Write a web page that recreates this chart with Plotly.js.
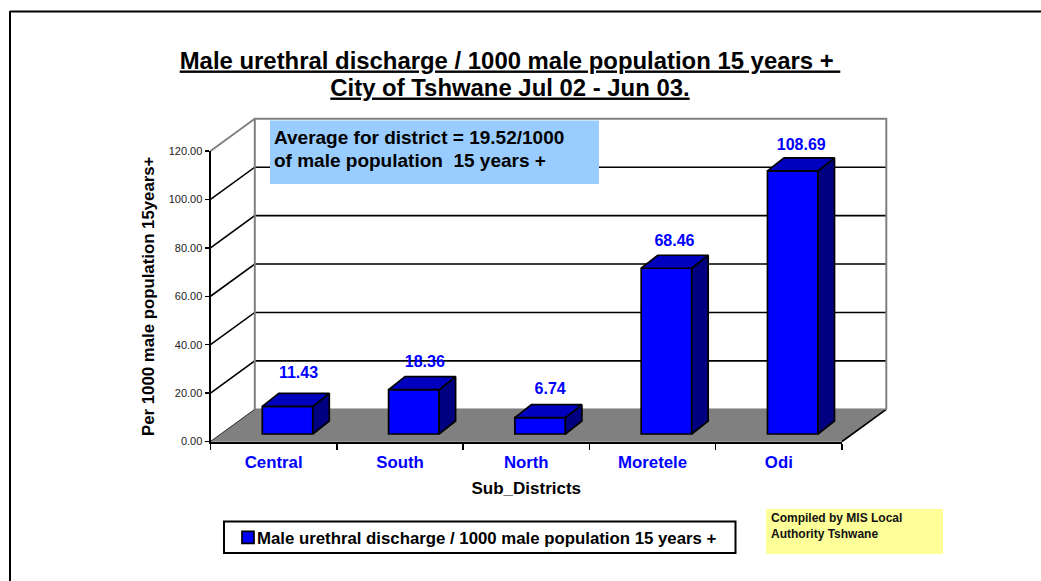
<!DOCTYPE html>
<html>
<head>
<meta charset="utf-8">
<script src="https://cdn.plot.ly/plotly-3.0.1.min.js"></script>
<style>html,body{margin:0;padding:0;background:#fff;overflow:hidden}#chart{width:1041px;height:581px}</style>
</head>
<body>
<div id="chart"></div>
<script>
const categories = ["Central", "South", "North", "Moretele", "Odi"];
const values = [11.43, 18.36, 6.74, 68.46, 108.69];
const valueLabels = ["11.43", "18.36", "6.74", "68.46", "108.69"];
const yTicks = [0, 20, 40, 60, 80, 100, 120];
const yTickLabels = ["0.00", "20.00", "40.00", "60.00", "80.00", "100.00", "120.00"];
const seriesName = "Male urethral discharge / 1000 male population 15 years +";
const labelLiftPx = [32, 27, 28, 26.5, 25];
const labelShiftPx = [11, 11, 10, 8, 8.5];

// page geometry
const W = 1041, H = 581, L = 200, R = 897, T = 110, B = 451;
const frontLeft = 210.5, frontRight = 842, y0Px = 441.5, y120Px = 151;
const pxPerCat = (frontRight - frontLeft) / 5, pxPerUnit = (y0Px - y120Px) / 120;
const wallDx = 44.3 / pxPerCat, wallDy = 32.2 / pxPerUnit;
const barLeft = -0.09, barWidth = 0.4, barBase = 3.1;
const barDx = 16.5 / pxPerCat, barDy = 13 / pxPerUnit;
const FONT = "'Liberation Sans', Arial, sans-serif";
const px = p => (p - L) / (R - L), py = p => (B - p) / (B - T);

const xMin = -0.5, xMax = 4.5;
const side = {x: [], y: []}, top_ = {x: [], y: []};
values.forEach((v, i) => {
  const xl = i + barLeft, xr = xl + barWidth, yb = barBase, yt = barBase + v;
  side.x.push(xr, xr + barDx, xr + barDx, xr, xr, null);
  side.y.push(yb, yb + barDy, yt + barDy, yt, yb, null);
  top_.x.push(xl, xr, xr + barDx, xl + barDx, xl, null);
  top_.y.push(yt, yt, yt + barDy, yt + barDy, yt, null);
});

const traces = [
  {type: "scatter", mode: "text", x: values.map((v, i) => i + barLeft + barWidth / 2 + labelShiftPx[i] / pxPerCat),
   y: values.map((v, i) => barBase + v + labelLiftPx[i] / pxPerUnit), text: valueLabels,
   textposition: "middle center", textfont: {family: FONT, size: 16, color: "#0000FF", weight: 700},
   xaxis: "x", yaxis: "y", showlegend: false, hoverinfo: "skip", cliponaxis: false},
  {type: "bar", name: seriesName, x: categories.map((c, i) => i), y: values, base: barBase, width: barWidth,
   offset: barLeft, xaxis: "x2", yaxis: "y2", customdata: categories,
   marker: {color: "#0000FF", line: {color: "#000", width: 1.7}}, showlegend: true},
  {type: "scatter", mode: "lines", x: side.x, y: side.y, fill: "toself", fillcolor: "#000080",
   line: {color: "#000", width: 1.7}, xaxis: "x2", yaxis: "y2", showlegend: false, hoverinfo: "skip", cliponaxis: false},
  {type: "scatter", mode: "lines", x: top_.x, y: top_.y, fill: "toself", fillcolor: "#0000BE",
   line: {color: "#000", width: 1.7}, xaxis: "x2", yaxis: "y2", showlegend: false, hoverinfo: "skip", cliponaxis: false}
];

const shapes = [];
const poly = (pts, fill, color, width) => shapes.push({type: "path", xref: "x", yref: "y", layer: "below",
  path: "M" + pts.map(p => p[0] + "," + p[1]).join("L") + (fill ? "Z" : ""), fillcolor: fill || undefined,
  line: {color: color, width: width}});
// floor
poly([[xMin, 0], [xMax, 0], [xMax + wallDx, wallDy], [xMin + wallDx, wallDy]], "#808080", "#808080", 0.5);
// gridlines on back and side walls
yTicks.slice(1, -1).forEach(t => {
  poly([[xMin, t], [xMin + wallDx, t + wallDy], [xMax + wallDx, t + wallDy]], null, "#000", 1.6);
});
poly([[xMin, 0], [xMin + wallDx, wallDy]], null, "#333", 1);
poly([[xMax, 0], [xMax + wallDx, wallDy]], null, "#000", 1.6);
// wall frame
poly([[xMin + wallDx, wallDy], [xMin + wallDx, 120 + wallDy], [xMax + wallDx, 120 + wallDy], [xMax + wallDx, wallDy]], null, "#808080", 2);
poly([[xMin, 120], [xMin + wallDx, 120 + wallDy]], null, "#808080", 2);
poly([[xMin + wallDx, wallDy], [xMax + wallDx, wallDy]], null, "#808080", 1.5);

const box = (x0, y0, x1, y1, fill, line) => shapes.push({type: "rect", xref: "paper", yref: "paper", layer: "above",
  x0: px(x0), x1: px(x1), y0: py(y1), y1: py(y0), fillcolor: fill, line: line});
box(270, 120.5, 599, 184, "#99CCFF", {width: 0});
box(766, 509, 943, 554, "#FFFF99", {width: 0});
box(224, 521.5, 735.5, 553, "rgba(0,0,0,0)", {color: "#000", width: 2});
// open outer frame: top and left rules
shapes.push({type: "line", xref: "paper", yref: "paper", layer: "above", x0: px(10), x1: px(W), y0: py(11.5), y1: py(11.5), line: {color: "#000", width: 2}});
shapes.push({type: "line", xref: "paper", yref: "paper", layer: "above", x0: px(10), x1: px(10), y0: py(11), y1: py(H), line: {color: "#000", width: 2}});

const note = (text, xp, yp, size, col) => ({xref: "paper", yref: "paper", x: px(xp), y: py(yp), xanchor: "left", yanchor: "middle",
  text: text, showarrow: false, align: "left", font: {family: FONT, size: size, color: col, weight: 700}});

const titleStyle = 'font-size:23.9px';
const layout = {
  width: W, height: H, paper_bgcolor: "#fff", plot_bgcolor: "rgba(0,0,0,0)",
  margin: {l: L, r: W - R, t: T, b: H - B, pad: 0},
  font: {family: FONT, color: "#000"},
  title: {
    text: '<b><span style="' + titleStyle + '"><u>Male urethral discharge / 1000 male population 15 years +\u00a0</u></span><br><span style="' + titleStyle + '"><u>City of Tshwane Jul 02 - Jun 03.</u></span></b>',
    font: {family: FONT, size: 20.8, color: "#000"},
    xref: "paper", x: px(510), xanchor: "center", yref: "container", y: 1 - 68.5 / H, yanchor: "middle"
  },
  shapes: shapes,
  annotations: [
    note("Average for district = 19.52/1000", 272, 137.5, 19, "#000"),
    note("of male population\u00a0\u00a015 years +", 272, 160, 19, "#000"),
    note("Compiled by MIS Local", 769, 518, 12, "#111"),
    note("Authority Tshwane", 769, 534, 12, "#111")
  ],
  showlegend: true,
  legend: {x: px(217), y: py(537.5), xanchor: "left", yanchor: "middle", bgcolor: "rgba(0,0,0,0)", borderwidth: 0,
    font: {family: FONT, size: 16.8, color: "#000", weight: 700}},
  bargap: 0,
  xaxis: {domain: [0, 1], range: [xMin - (frontLeft - L) / pxPerCat, xMin + (R - frontLeft) / pxPerCat], visible: false, fixedrange: true, anchor: "y"},
  yaxis: {domain: [0, 1], range: [(B - y0Px) / -pxPerUnit, (y0Px - T) / pxPerUnit], visible: false, fixedrange: true, anchor: "x"},
  xaxis2: {domain: [px(frontLeft), px(frontRight)], range: [xMin, xMax], anchor: "y2", fixedrange: true,
    tickmode: "array", tickvals: categories.map((c, i) => i), ticktext: categories, ticks: "", ticklabelstandoff: 4,
    tickfont: {family: FONT, size: 16.8, color: "#0000FF", weight: 700},
    minor: {tickmode: "array", tickvals: [-0.5, 0.5, 1.5, 2.5, 3.5, 4.5], ticks: "outside", ticklen: 6, tickwidth: 1.5, tickcolor: "#000", showgrid: false},
    showline: true, linecolor: "#000", linewidth: 2, showgrid: false, zeroline: false,
    title: {text: "Sub_Districts", standoff: 11, font: {family: FONT, size: 17, color: "#000", weight: 700}}},
  yaxis2: {domain: [py(y0Px), py(y120Px)], range: [0, 120], anchor: "x2", fixedrange: true,
    tickmode: "array", tickvals: yTicks, ticktext: yTickLabels, ticks: "outside", ticklen: 4, tickwidth: 1.5, tickcolor: "#000",
    tickfont: {family: FONT, size: 11, color: "#222"},
    showline: true, linecolor: "#000", linewidth: 2, showgrid: false, zeroline: false,
    title: {text: "Per 1000 male population 15years+", standoff: 10, font: {family: FONT, size: 16.8, color: "#000", weight: 700}}}
};

Plotly.newPlot("chart", traces, layout, {staticPlot: true, displayModeBar: false}).then(gd => {
  gd.querySelectorAll(".legend .legendpoints").forEach(n => n.setAttribute("transform", "translate(11,0)"));
});
</script>
</body>
</html>
